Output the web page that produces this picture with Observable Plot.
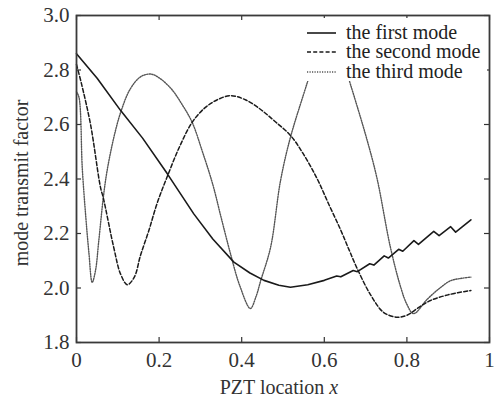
<!DOCTYPE html>
<html>
<head>
<meta charset="utf-8">
<script src="https://cdn.jsdelivr.net/npm/d3@7"></script>
<script src="https://cdn.jsdelivr.net/npm/@observablehq/plot@0.6"></script>
<style>
  html, body { margin: 0; padding: 0; background: #fff; }
  #chart { width: 494px; height: 399px; position: relative; }
</style>
</head>
<body>
<div id="chart"></div>
<script>
// ---- data ----
const seriesNames = ["the first mode", "the second mode", "the third mode"];

const mode1X = [0, 0.05, 0.107, 0.16, 0.22, 0.284, 0.33, 0.381, 0.42, 0.454, 0.49, 0.518, 0.56, 0.60, 0.63, 0.64, 0.67, 0.68, 0.71, 0.72, 0.745, 0.755, 0.78, 0.79, 0.817, 0.828, 0.865, 0.878, 0.906, 0.918, 0.955];
const mode1Y = [2.86, 2.77, 2.651, 2.55, 2.419, 2.272, 2.18, 2.095, 2.055, 2.028, 2.010, 2.003, 2.012, 2.028, 2.044, 2.041, 2.064, 2.060, 2.089, 2.084, 2.118, 2.110, 2.142, 2.135, 2.174, 2.160, 2.208, 2.192, 2.225, 2.205, 2.250];

const mode2X = [0, 0.012, 0.034, 0.058, 0.065, 0.09, 0.107, 0.123, 0.14, 0.155, 0.175, 0.195, 0.22, 0.25, 0.28, 0.31, 0.34, 0.373, 0.41, 0.446, 0.48, 0.518, 0.55, 0.583, 0.61, 0.639, 0.66, 0.68, 0.712, 0.744, 0.776, 0.80, 0.83, 0.857, 0.90, 0.955];
const mode2Y = [2.82, 2.75, 2.60, 2.37, 2.33, 2.15, 2.05, 2.012, 2.04, 2.12, 2.21, 2.31, 2.41, 2.52, 2.608, 2.66, 2.69, 2.706, 2.69, 2.655, 2.612, 2.56, 2.49, 2.40, 2.31, 2.215, 2.14, 2.07, 1.975, 1.91, 1.893, 1.90, 1.93, 1.954, 1.975, 1.991];

const mode3X = [0, 0.006, 0.014, 0.022, 0.030, 0.038, 0.046, 0.054, 0.065, 0.074, 0.09, 0.107, 0.13, 0.155, 0.18, 0.203, 0.23, 0.255, 0.28, 0.305, 0.33, 0.35, 0.373, 0.395, 0.421, 0.435, 0.446, 0.47, 0.494, 0.518, 0.559, 0.58, 0.61, 0.64, 0.663, 0.704, 0.728, 0.76, 0.785, 0.80, 0.816, 0.85, 0.88, 0.906, 0.93, 0.955];
const mode3Y = [2.72, 2.70, 2.44, 2.27, 2.13, 2.021, 2.064, 2.174, 2.333, 2.43, 2.55, 2.645, 2.73, 2.775, 2.785, 2.768, 2.73, 2.675, 2.608, 2.50, 2.38, 2.26, 2.125, 2.01, 1.925, 1.97, 2.027, 2.15, 2.394, 2.553, 2.755, 2.86, 2.93, 2.86, 2.749, 2.541, 2.40, 2.15, 2.003, 1.94, 1.906, 1.96, 2.00, 2.027, 2.035, 2.04];

const xTicks = [0, 0.2, 0.4, 0.6, 0.8, 1];
const xTickLabels = ["0", "0.2", "0.4", "0.6", "0.8", "1"];
const yTicks = [1.8, 2.0, 2.2, 2.4, 2.6, 2.8, 3.0];
const yTickLabels = ["1.8", "2.0", "2.2", "2.4", "2.6", "2.8", "3.0"];

// ---- build tables ----
const toRows = (xs, ys) => xs.map((x, i) => ({x, y: ys[i]}));
const rows1 = toRows(mode1X, mode1Y);
const rows2 = toRows(mode2X, mode2Y);
const rows3 = toRows(mode3X, mode3Y);

const styles = [
  {stroke: "#1a1a1a", strokeWidth: 1.6, strokeDasharray: null},
  {stroke: "#1a1a1a", strokeWidth: 1.5, strokeDasharray: "4,2.2"},
  {stroke: "#555", strokeWidth: 1.4, strokeDasharray: "1.2,1.3"}
];

const W = 494, H = 399;
const mL = 76, mR = 5, mT = 15, mB = 57;
const innerW = W - mL - mR, innerH = H - mT - mB;
const tickLen = 5;

const chart = Plot.plot({
  width: W, height: H,
  marginLeft: mL, marginRight: mR, marginTop: mT, marginBottom: mB,
  style: {fontFamily: "'Liberation Serif', serif", fontSize: "21px", background: "#fff", color: "#333"},
  x: {domain: [0, 1], axis: null},
  y: {domain: [1.8, 3.0], axis: null},
  marks: [
    Plot.line(rows3, {x: "x", y: "y", curve: "catmull-rom", ...styles[2]}),
    Plot.line(rows2, {x: "x", y: "y", curve: "catmull-rom", ...styles[1]}),
    Plot.line(rows1, {x: "x", y: "y", curve: "linear", ...styles[0]}),
    // inward ticks on all four sides
    Plot.tickX(xTicks, {x: d => d, insetTop: innerH - tickLen, stroke: "#333", strokeWidth: 1.2}),
    Plot.tickX(xTicks, {x: d => d, insetBottom: innerH - tickLen, stroke: "#333", strokeWidth: 1.2}),
    Plot.tickY(yTicks, {y: d => d, insetRight: innerW - tickLen, stroke: "#333", strokeWidth: 1.2}),
    Plot.tickY(yTicks, {y: d => d, insetLeft: innerW - tickLen, stroke: "#333", strokeWidth: 1.2}),
    Plot.axisX(xTicks, {tickSize: 0, tickPadding: 10, tickFormat: d => xTickLabels[xTicks.indexOf(d)], label: null, fill: "#333"}),
    Plot.axisY(yTicks, {tickSize: 0, tickPadding: 7, tickFormat: d => yTickLabels[yTicks.indexOf(d)], label: null, fill: "#333"}),
    Plot.frame({stroke: "#3a3a3a", strokeWidth: 1.8})
  ]
});

document.getElementById("chart").appendChild(chart);

// ---- axis titles and legend ----
const svg = d3.select(chart);

const xl = svg.append("text")
  .attr("x", 279).attr("y", 394)
  .attr("text-anchor", "middle")
  .attr("font-size", 20).attr("fill", "#333");
xl.append("tspan").text("PZT location ");
xl.append("tspan").attr("font-style", "italic").text("x");

svg.append("text")
  .attr("transform", "translate(28,183) rotate(-90)")
  .attr("text-anchor", "middle")
  .attr("font-size", 20).attr("fill", "#333")
  .text("mode transmit factor");

const lg = svg.append("g");
lg.append("rect").attr("x", 303).attr("y", 18).attr("width", 184).attr("height", 63).attr("fill", "#fff");
const rowY = [33, 52, 72];
seriesNames.forEach((name, i) => {
  const st = styles[i];
  lg.append("line")
    .attr("x1", 307).attr("x2", 336).attr("y1", rowY[i]).attr("y2", rowY[i])
    .attr("stroke", st.stroke).attr("stroke-width", st.strokeWidth)
    .attr("stroke-dasharray", st.strokeDasharray);
  lg.append("text")
    .attr("x", 346).attr("y", rowY[i] + 5.5)
    .attr("text-anchor", "start")
    .attr("font-size", 20).attr("fill", "#222")
    .text(name);
});
</script>
</body>
</html>
